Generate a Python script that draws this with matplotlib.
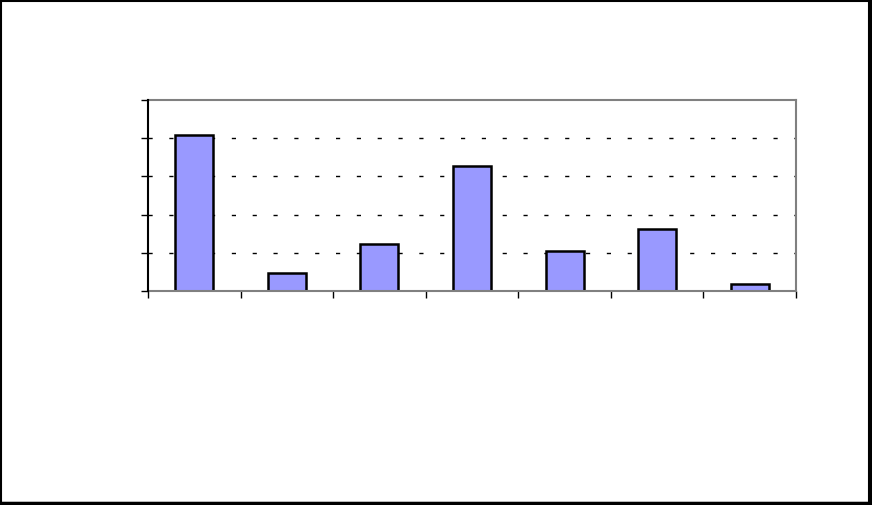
import matplotlib.pyplot as plt
import numpy as np
from matplotlib.patches import Rectangle

# bar chart without any labels; values read off the gridlines (0..5)
categories = ['A', 'B', 'C', 'D', 'E', 'F', 'G']
values = [4.09, 0.46, 1.23, 3.27, 1.06, 1.63, 0.19]

fig = plt.figure(figsize=(8.72, 5.05), dpi=100)
ax = fig.add_axes([148 / 872, 1 - 291 / 505, 648 / 872, 191 / 505])

x = np.arange(len(categories))
ax.bar(x, values, width=0.41, color='#9999FF', edgecolor='black', linewidth=1.8, zorder=3)

ax.set_xlim(-0.5, len(categories) - 0.5)
ax.set_ylim(0, 5)
yticks = np.arange(0, 6, 1)
ax.set_yticks(yticks)
ax.set_xticks(np.arange(-0.5, len(categories), 1))
ax.set_xticklabels([]), ax.set_yticklabels([])
ax.tick_params(axis='both', direction='out', length=5, width=1, color='black')

# dotted gridlines only between the bottom and the top border
for yv in yticks[1:-1]:
    ax.axhline(yv, color='black', linestyle=(0, (3, 12)), linewidth=1, zorder=1)

for side in ('top', 'right', 'bottom'):
    ax.spines[side].set_color('#808080')
    ax.spines[side].set_linewidth(1.5)
    ax.spines[side].set_zorder(4)
ax.spines['left'].set_color('black')
ax.spines['left'].set_linewidth(1.5)
ax.spines['left'].set_zorder(5)

# outer chart frame (thicker right/bottom edges like a shadow)
fig.patches.append(Rectangle((0.001, 0.004), 0.995, 0.994, transform=fig.transFigure,
                             fill=False, edgecolor='black', linewidth=1.5))
fig.add_artist(plt.Line2D([0.9975, 0.9975], [0, 1], transform=fig.transFigure,
                          color='black', linewidth=2.5))
fig.add_artist(plt.Line2D([0, 1], [0.004, 0.004], transform=fig.transFigure,
                          color='black', linewidth=2.5))

fig.savefig('out.png', dpi=100, facecolor='white')
